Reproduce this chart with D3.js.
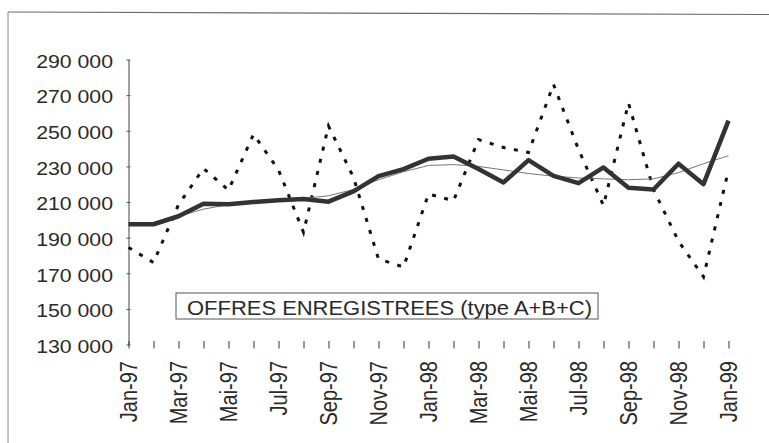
<!DOCTYPE html>
<html>
<head>
<meta charset="utf-8">
<script src="https://cdn.jsdelivr.net/npm/d3@7"></script>
<style>
  html, body { margin: 0; padding: 0; background: #ffffff; }
  svg { display: block; }
  text { font-family: "Liberation Sans", Arial, Helvetica, sans-serif; fill: #2a2a2a; }
</style>
</head>
<body>
<svg id="chart" width="769" height="443"></svg>
<script>
// ---- data ----
const months = ["Jan-97","Fév-97","Mar-97","Avr-97","Mai-97","Juin-97","Jul-97","Aoû-97","Sep-97","Oct-97","Nov-97","Déc-97",
                "Jan-98","Fév-98","Mar-98","Avr-98","Mai-98","Juin-98","Jul-98","Aoû-98","Sep-98","Oct-98","Nov-98","Déc-98","Jan-99"];
const tickLabels = ["Jan-97","Mar-97","Mai-97","Jul-97","Sep-97","Nov-97","Jan-98","Mar-98","Mai-98","Jul-98","Sep-98","Nov-98","Jan-99"];
const yTicks = [130000,150000,170000,190000,210000,230000,250000,270000,290000];
// seasonally adjusted (bold solid)
const cvs = [197500,197500,202000,209000,208800,210000,211000,211700,210200,216000,224500,228500,
             234300,235500,228500,221000,233500,224700,220600,229400,218000,217000,231500,220000,255700];
// raw series (dashed)
const brut = [184500,176000,208500,228800,216700,248000,228000,193000,252700,223800,178000,173500,
              214500,210700,245000,240600,237800,276000,239500,208000,265500,217000,188000,168000,228000];
// trend (thin)
const trend = [197500,198500,202000,206000,208500,210000,211000,212000,213500,217000,222500,227000,
               230500,231000,230000,228000,226000,224500,223500,223000,222500,223000,226500,231500,236000];
const legendText = "OFFRES ENREGISTREES (type A+B+C)";

// ---- layout ----
const svg = d3.select("#chart");
const x = d3.scalePoint().domain(months).range([128.5, 728.5]);
const y = d3.scaleLinear().domain([130000, 290000]).range([344.5, 59.5]);
const fmt = v => d3.format(",")(v).replace(/,/g, " ");

// outer frame (top and left edges of the scanned box)
svg.append("line").attr("x1", 8).attr("y1", 12).attr("x2", 769).attr("y2", 14.5)
   .attr("stroke", "#6a6a6a").attr("stroke-width", 1.2);
svg.append("line").attr("x1", 8).attr("y1", 12).attr("x2", 8).attr("y2", 443)
   .attr("stroke", "#8a8a8a").attr("stroke-width", 1);

// y axis
const yAxis = svg.append("g").attr("transform", "translate(128.5,0)")
  .call(d3.axisLeft(y).tickValues(yTicks).tickSize(0).tickFormat(""));
yAxis.select(".domain").attr("stroke", "#555").attr("stroke-width", 1.1);
yAxis.selectAll(".tick").append("line").attr("x1", -2).attr("x2", 2).attr("stroke", "#555");
svg.append("g").selectAll("text").data(yTicks).join("text")
  .attr("transform", d => `translate(113,${y(d) + 1.8}) scale(1.15,1)`)
  .attr("text-anchor", "end").attr("dy", "0.35em")
  .style("font-size", "18.5px")
  .text(d => fmt(d));

// x axis: ticks only
const xAxis = svg.append("g").attr("transform", "translate(0,345)")
  .call(d3.axisBottom(x).tickSize(0).tickFormat(""));
xAxis.select(".domain").remove();
xAxis.selectAll(".tick").append("line").attr("y1", -4).attr("y2", 3.5)
  .attr("stroke", "#444").attr("stroke-width", 1.1);
svg.append("g").selectAll("text").data(tickLabels).join("text")
  .attr("transform", d => `translate(${x(d) + 0.5},361) scale(1.15,1) rotate(-90)`)
  .attr("text-anchor", "end").attr("dy", "0.35em")
  .style("font-size", "20px")
  .text(d => d);

// legend box
svg.append("rect").attr("x", 176).attr("y", 293).attr("width", 422).attr("height", 26)
  .attr("fill", "#fff").attr("stroke", "#555").attr("stroke-width", 1);
svg.append("text").attr("x", 187).attr("y", 315)
  .attr("textLength", 405).attr("lengthAdjust", "spacingAndGlyphs")
  .style("font-size", "19.5px").text(legendText);

// lines
const line = d3.line().x((d, i) => x(months[i])).y(d => y(d));
svg.append("path").datum(brut).attr("d", line).attr("fill", "none")
  .attr("stroke", "#111").attr("stroke-width", 3).attr("stroke-dasharray", "4,8.5");
svg.append("path").datum(trend).attr("d", line).attr("fill", "none")
  .attr("stroke", "#777").attr("stroke-width", 1);
svg.append("path").datum(cvs).attr("d", line).attr("fill", "none")
  .attr("stroke", "#333").attr("stroke-width", 4.5).attr("stroke-linejoin", "round");
</script>
</body>
</html>
